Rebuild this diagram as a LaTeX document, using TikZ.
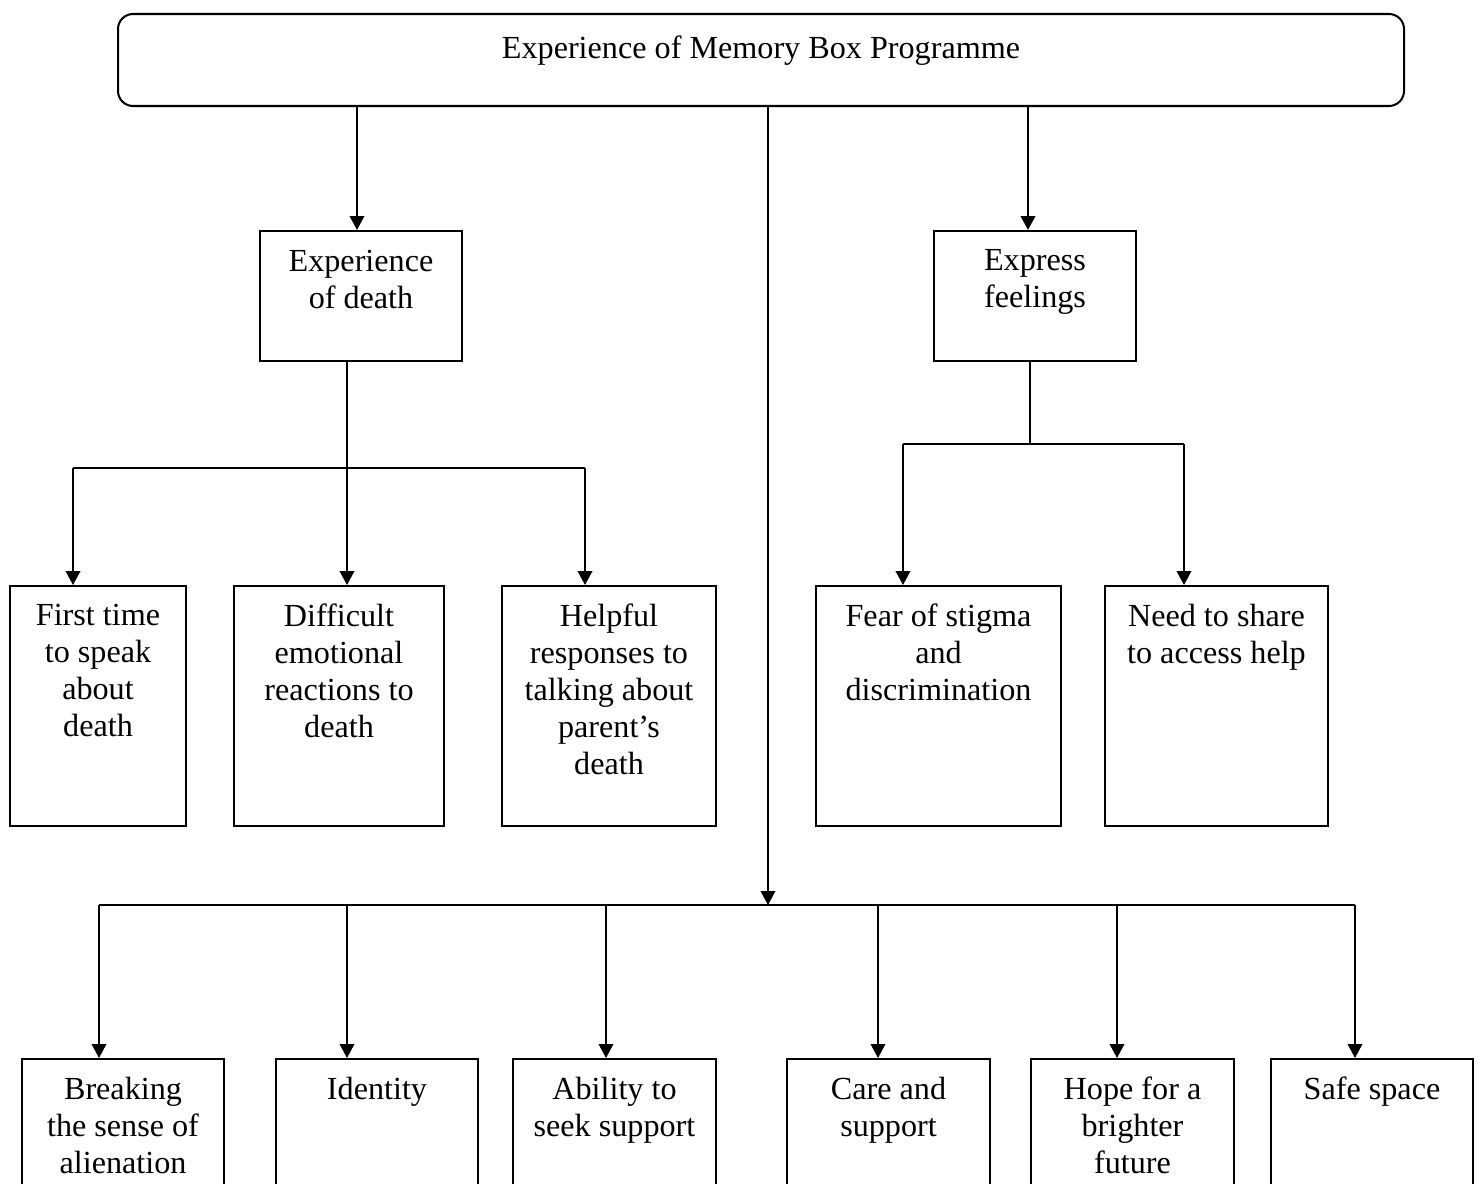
\documentclass[tikz,border=0pt]{standalone}
\usepackage{fontspec}
\setmainfont{Liberation Serif}
\usepackage{tikz}
\usetikzlibrary{positioning, calc, arrows.meta}

\begin{document}
\begin{tikzpicture}[x=0.373pt, y=-0.373pt,
        themebox/.style 2 args={draw, line width=0.75pt, anchor=north west, inner sep=0pt,
            minimum width=#1*0.373pt, minimum height=#2*0.373pt},
        lab/.style={font=\fontsize{12}{13.8}\selectfont, align=center, anchor=north, inner sep=0pt},
        link/.style={line width=0.75pt},
        arr/.style={line width=0.75pt, -{Triangle[length=5.2pt, width=5.4pt]}}
    ]
    \useasboundingbox (0,0) rectangle (1478,1184);

    % top
    \node[themebox={1286}{92}, rounded corners=5.6pt] (prog) at (117,13) {};
    \node[lab, below=8.2pt of prog.north] {Experience of Memory Box Programme};

    % second level
    \node[themebox={202}{130}] (death) at (259,230) {};
    \node[lab, below=7.2pt of death.north] {Experience\\ of death};
    \node[themebox={202}{130}] (feel) at (933,230) {};
    \node[lab, below=7.2pt of feel.north] {Express\\ feelings};

    % third level
    \node[themebox={176}{240}] (first) at (9,585) {};
    \node[lab, below=7pt of first.north] {First time\\ to speak\\ about\\ death};
    \node[themebox={210}{240}] (diff) at (233,585) {};
    \node[lab, below=7pt of diff.north] {Difficult\\ emotional\\ reactions to\\ death};
    \node[themebox={214}{240}] (help) at (501,585) {};
    \node[lab, below=7pt of help.north] {Helpful\\ responses to\\ talking about\\ parent's\\ death};
    \node[themebox={245}{240}] (fear) at (815,585) {};
    \node[lab, below=7pt of fear.north] {Fear of stigma\\ and\\ discrimination};
    \node[themebox={223}{240}] (need) at (1104,585) {};
    \node[lab, below=7pt of need.north] {Need to share\\ to access help};

    % bottom row
    \node[themebox={202}{160}] (brk) at (21,1058) {};
    \node[lab, below=7pt of brk.north] {Breaking\\ the sense of\\ alienation};
    \node[themebox={202}{160}] (ident) at (275,1058) {};
    \node[lab, below=7pt of ident.north] {Identity};
    \node[themebox={203}{160}] (abil) at (512,1058) {};
    \node[lab, below=7pt of abil.north] {Ability to\\ seek support};
    \node[themebox={203}{160}] (care) at (786,1058) {};
    \node[lab, below=7pt of care.north] {Care and\\ support};
    \node[themebox={203}{160}] (hope) at (1030,1058) {};
    \node[lab, below=7pt of hope.north] {Hope for a\\ brighter\\ future};
    \node[themebox={202}{160}] (safe) at (1270,1058) {};
    \node[lab, below=7pt of safe.north] {Safe space};

    % top to second level
    \coordinate (tl) at (357,0);
    \coordinate (tr) at (1028,0);
    \draw[arr] (prog.south -| tl) -- (death.north -| tl);
    \draw[arr] (prog.south -| tr) -- (feel.north -| tr);

    % experience of death
    \coordinate (dj) at (347,468);
    \draw[link] (death.south -| dj) -- (dj);
    \coordinate (d1) at (73,468);
    \coordinate (d3) at (585,468);
    \draw[link] (d1) -- (d3);
    \draw[arr] (d1) -- (d1 |- first.north);
    \draw[arr] (dj) -- (dj |- diff.north);
    \draw[arr] (d3) -- (d3 |- help.north);

    % express feelings
    \coordinate (fj) at (1030,444);
    \draw[link] (feel.south -| fj) -- (fj);
    \coordinate (f1) at (903,444);
    \coordinate (f2) at (1184,444);
    \draw[link] (f1) -- (f2);
    \draw[arr] (f1) -- (f1 |- fear.north);
    \draw[arr] (f2) -- (f2 |- need.north);

    % programme to bottom row
    \coordinate (hub) at (768,905);
    \draw[arr] (prog.south -| hub) -- (hub);
    \foreach \x/\n in {99/brk, 347/ident, 606/abil, 878/care, 1117/hope, 1355/safe}
        \coordinate (j\n) at (\x,905);
    \draw[link] (jbrk) -- (jsafe);
    \foreach \n in {brk, ident, abil, care, hope, safe}
        \draw[arr] (j\n) -- (j\n |- \n.north);

\end{tikzpicture}
\end{document}
